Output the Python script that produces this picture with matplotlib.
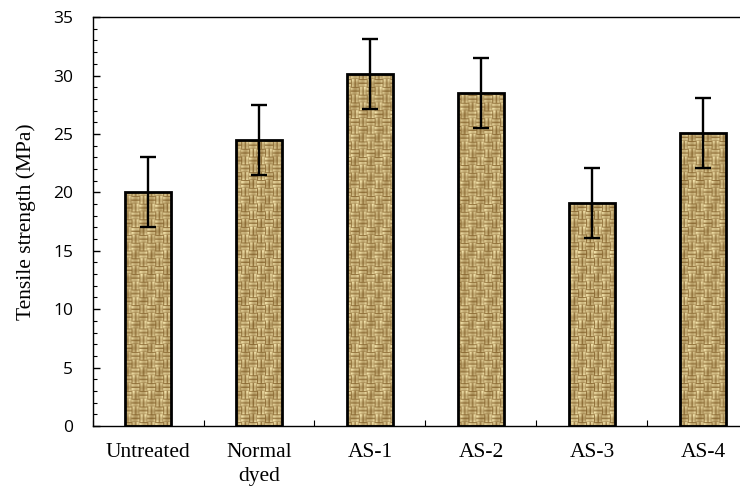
import numpy as np
import matplotlib
matplotlib.use("Agg")
import matplotlib.pyplot as plt
from matplotlib.ticker import MultipleLocator

categories = ["Untreated", "Normal\ndyed", "AS-1", "AS-2", "AS-3", "AS-4"]
strength = [20.0, 24.5, 30.1, 28.5, 19.1, 25.1]
errors = [3.0, 3.0, 3.0, 3.0, 3.0, 3.0]


def weave_texture(h, w, s=4):
    # basket-weave burlap look, built from a fixed pattern
    yy, xx = np.mgrid[0:h, 0:w]
    blk = ((yy // (2 * s)) + (xx // (2 * s))) % 2
    across = np.where(blk == 0, yy % s, xx % s)
    along = np.where(blk == 0, xx % (2 * s), yy % (2 * s))
    v = np.where(across == 0, 0.3, np.where(across == s - 1, 0.7, 1.0))
    v = v * (0.85 + 0.15 * np.cos(along * np.pi / s))
    v = v * (0.82 + 0.18 * np.sin(xx * 0.37 + yy * 0.21) * np.cos(yy * 0.13))
    light = np.array([244, 228, 172]) / 255
    dark = np.array([120, 84, 30]) / 255
    return dark + (light - dark) * v[..., None]


fig = plt.figure(figsize=(7.4, 4.88), dpi=100)
ax = fig.add_axes([0.125, 0.127, 0.9, 0.838])

x = np.arange(len(categories))
width = 0.41
bars = ax.bar(x, strength, width, color="none", edgecolor="black", linewidth=2, zorder=3)

tex = weave_texture(420, 680)
for b in bars:
    im = ax.imshow(tex, extent=[-0.5, 5.5, 0, 35], aspect="auto",
                   interpolation="bilinear", zorder=2)
    im.set_clip_path(b)

ax.errorbar(x, strength, yerr=errors, fmt="none", ecolor="black",
            elinewidth=1.7, capsize=5.5, capthick=1.7, zorder=4)

ax.set_xlim(-0.5, 5.5)
ax.set_ylim(0, 35)
ax.spines["right"].set_visible(False)
for s in ["left", "bottom", "top"]:
    ax.spines[s].set_linewidth(1.0)

ax.yaxis.set_major_locator(MultipleLocator(5))
ax.yaxis.set_minor_locator(MultipleLocator(1))
ax.tick_params(axis="y", which="major", direction="in", length=5, width=1, pad=14)
ax.tick_params(axis="y", which="minor", direction="in", length=3, width=0.8)
ax.tick_params(axis="x", which="major", length=0, pad=12)
ax.set_xticks(np.arange(-0.5, 6.0, 1.0), minor=True)
ax.tick_params(axis="x", which="minor", direction="in", length=4, width=0.8)

ax.set_xticks(x)
ax.set_xticklabels(categories, family="Liberation Serif", fontsize=15.5, linespacing=1.35)
ax.set_yticks(np.arange(0, 36, 5))
ax.set_yticklabels([str(v) for v in range(0, 36, 5)], family="Open Sans", fontsize=12.5)
ax.set_ylabel("Tensile strength (MPa)", family="Liberation Serif", fontsize=15.5, labelpad=12)

fig.savefig("out.png", dpi=100)
